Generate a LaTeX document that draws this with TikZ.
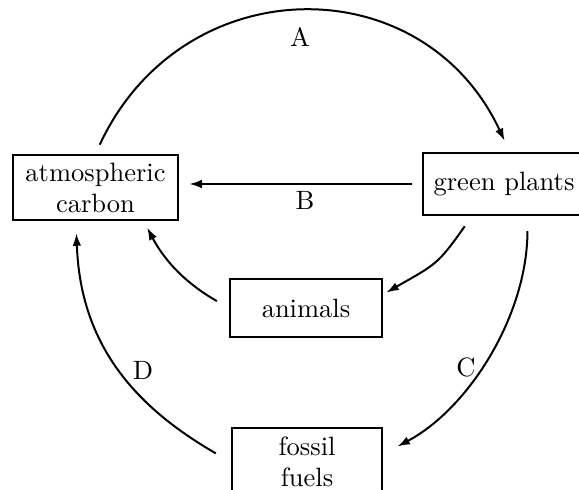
\documentclass[tikz,border=0pt]{standalone}
\usetikzlibrary{arrows.meta}
\begin{document}
\begin{tikzpicture}[x=0.4pt,y=0.4pt,
  txt/.style={font=\fontsize{10.6}{12.4}\selectfont},
  box/.style={txt,draw,line width=1pt,align=center,inner sep=0pt},
  arr/.style={line width=0.8pt,-{Latex[length=5pt,width=3.4pt]}},
  lbl/.style={txt,inner sep=0pt}]
\clip (0,0) rectangle (579,490);
\node[box,minimum width=66pt,minimum height=26pt] (atm) at (95.5,302.5) {atmospheric\\carbon};
\node[box,minimum width=64.8pt,minimum height=24.8pt] (green) at (504,306) {green plants};
\node[box,minimum width=60.8pt,minimum height=23.2pt] (animals) at (306,182) {animals};
\node[box,minimum width=60pt,minimum height=27.2pt] (fossil) at (307,28) {fossil\\fuels};
% A
\draw[arr,shorten <=4pt,shorten >=4.8pt] (atm.north) to[out=65,in=115,looseness=1.267] (green.80);
\node[lbl] (la) at (300,453) {A};
% B
\draw[arr,shorten <=4pt,shorten >=4pt] (green.west) -- (green.west -| atm.east);
\node[lbl] (lb) at (305,290) {B};
% animals -> atmospheric carbon
\draw[arr,shorten <=5.5pt,shorten >=2.9pt] (animals.west) to[out=150,in=-62] (atm.-35);
% D
\draw[arr,shorten <=6.9pt,shorten >=4.8pt] (fossil.west) to[out=150,in=-88,in looseness=1.1] (atm.240);
\node[lbl] (ld) at (143,120) {D};
% green plants -> animals
\draw[arr,shorten <=4.9pt,shorten >=1.4pt] (green.225) to[out=235,in=30,looseness=1.3] (animals.10);
% C
\draw[arr,shorten <=6pt,shorten >=6.4pt] (green.-54) to[out=-90,in=28,looseness=0.9] (fossil.6);
\node[lbl] (lc) at (466,123) {C};
\end{tikzpicture}
\end{document}
